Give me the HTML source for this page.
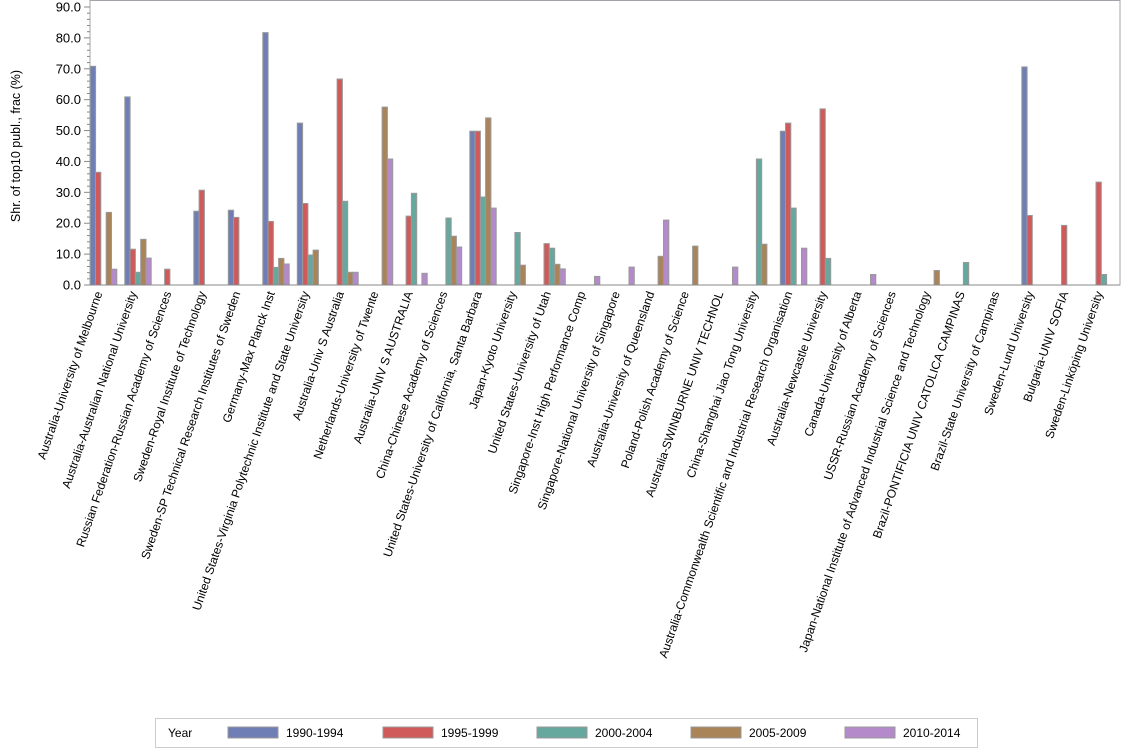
<!DOCTYPE html>
<html><head><meta charset="utf-8"><style>body{margin:0;background:#fff}svg{display:block}text{font-family:"Liberation Sans",sans-serif;fill:#000}</style></head>
<body>
<svg width="1134" height="756" xmlns="http://www.w3.org/2000/svg" id="s">
<rect x="90" y="0.5" width="1030" height="284.5" fill="#fff" stroke="#a0a4a8"/>
<g id="g"></g>
<text transform="translate(20,146) rotate(-90)" text-anchor="middle" font-size="12.5">Shr. of top10 publ., frac (%)</text>
<rect x="155.5" y="718.5" width="822" height="29" fill="#fff" stroke="#ccc"/>
<text x="168" y="737" font-size="12">Year</text>
<rect x="228" y="727" width="50" height="11" fill="#6f7fb5" stroke="#999"/><text x="286" y="737" font-size="12">1990-1994</text>
<rect x="383" y="727" width="50" height="11" fill="#d05a5a" stroke="#999"/><text x="441" y="737" font-size="12">1995-1999</text>
<rect x="537" y="727" width="50" height="11" fill="#66a89e" stroke="#999"/><text x="595" y="737" font-size="12">2000-2004</text>
<rect x="691" y="727" width="50" height="11" fill="#a98459" stroke="#999"/><text x="749" y="737" font-size="12">2005-2009</text>
<rect x="845" y="727" width="50" height="11" fill="#b58acb" stroke="#999"/><text x="903" y="737" font-size="12">2010-2014</text>
</svg>
<script>
const g=document.getElementById('g');let h='';
const y0=285,k=278/90;
for(let v=0;v<=90;v+=2){const y=y0-v*k;
 if(v%10==0){h+=`<line x1="84" x2="90" y1="${y}" y2="${y}" stroke="#888"/><text x="81" y="${y+4.5}" font-size="13" text-anchor="end">${v.toFixed(1)}</text>`}
 else h+=`<line x1="87" x2="90" y1="${y}" y2="${y}" stroke="#888"/>`;}
const C=['#6f7fb5','#d05a5a','#66a89e','#a98459','#b58acb'];
const D=[["Australia-University of Melbourne",[70.8,36.5,0,23.5,5.1]],
["Australia-Australian National University",[60.9,11.6,4.1,14.8,8.7]],
["Russian Federation-Russian Academy of Sciences",[0,5.1,0,0,0]],
["Sweden-Royal Institute of Technology",[23.9,30.7,0,0,0]],
["Sweden-SP Technical Research Institutes of Sweden",[24.2,21.9,0,0,0]],
["Germany-Max Planck Inst",[81.7,20.6,5.7,8.6,6.8]],
["United States-Virginia Polytechnic Institute and State University",[52.4,26.4,9.7,11.3,0]],
["Australia-Univ S Australia",[0,66.7,27.1,4.1,4.1]],
["Netherlands-University of Twente",[0,0,0,57.6,40.8]],
["Australia-UNIV S AUSTRALIA",[0,22.3,29.7,0,3.8]],
["China-Chinese Academy of Sciences",[0,0,21.7,15.8,12.3]],
["United States-University of California, Santa Barbara",[49.8,49.8,28.5,54.1,24.9]],
["Japan-Kyoto University",[0,0,17.0,6.4,0]],
["United States-University of Utah",[0,13.4,11.9,6.7,5.2]],
["Singapore-Inst High Performance Comp",[0,0,0,0,2.8]],
["Singapore-National University of Singapore",[0,0,0,0,5.8]],
["Australia-University of Queensland",[0,0,0,9.3,21.0]],
["Poland-Polish Academy of Science",[0,0,0,12.6,0]],
["Australia-SWINBURNE UNIV TECHNOL",[0,0,0,0,5.8]],
["China-Shanghai Jiao Tong University",[0,0,40.8,13.2,0]],
["Australia-Commonwealth Scientific and Industrial Research Organisation",[49.8,52.4,24.9,0,11.9]],
["Australia-Newcastle University",[0,57.0,8.6,0,0]],
["Canada-University of Alberta",[0,0,0,0,3.4]],
["USSR-Russian Academy of Sciences",[0,0,0,0,0]],
["Japan-National Institute of Advanced Industrial Science and Technology",[0,0,0,4.7,0]],
["Brazil-PONTIFICIA UNIV CATOLICA CAMPINAS",[0,0,7.3,0,0]],
["Brazil-State University of Campinas",[0,0,0,0,0]],
["Sweden-Lund University",[70.6,22.5,0,0,0]],
["Bulgaria-UNIV SOFIA",[0,19.3,0,0,0]],
["Sweden-Linköping University",[0,33.3,3.4,0,0]]];
const bw=5.3;
D.forEach((d,i)=>{const cx=103.5+34.5*i;
 d[1].forEach((v,j)=>{if(v>0){const x=cx+(j-2.5)*bw,hh=v*k;h+=`<rect x="${x.toFixed(1)}" y="${(y0-hh).toFixed(1)}" width="${bw}" height="${hh.toFixed(1)}" fill="${C[j]}" stroke="#999" stroke-width="1"/>`}});
 h+=`<text transform="translate(${cx-1},293) rotate(-71)" text-anchor="end" font-size="12">${d[0]}</text>`;
});
h+=`<line x1="90" x2="1120" y1="285" y2="285" stroke="#888"/>`;
g.innerHTML=h;
</script>
</body></html>
